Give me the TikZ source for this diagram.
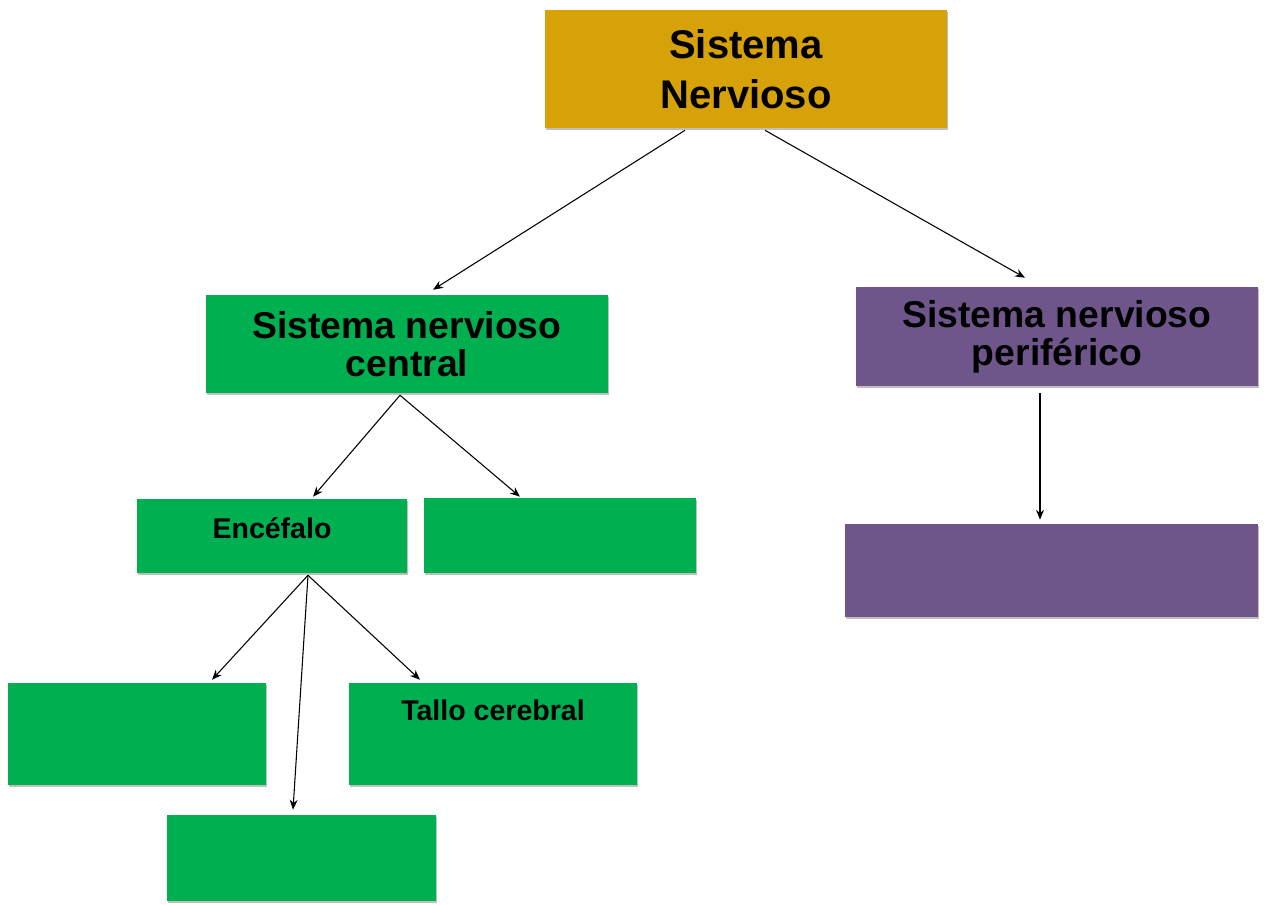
\documentclass[tikz,border=0pt]{standalone}
\usepackage{fontspec}
\setmainfont{Liberation Sans}
\usetikzlibrary{arrows.meta, calc, shadows}

\definecolor{nsgold}{RGB}{214,162,8}
\definecolor{nsgreen}{RGB}{0,176,80}
\definecolor{nspurple}{RGB}{111,86,138}

\begin{document}
\begin{tikzpicture}[
    x=0.75pt, y=-0.75pt,
    box/.style={rectangle, inner sep=0pt, align=center, drop shadow={shadow xshift=1pt, shadow yshift=-1.8pt, opacity=0.5}},
    goldbox/.style={box, fill=nsgold, font=\bfseries\fontsize{30}{37.5}\selectfont},
    greenbox/.style={box, fill=nsgreen},
    purplebox/.style={box, fill=nspurple},
    bigtext/.style={font=\bfseries\fontsize{28}{28.5}\selectfont},
    smalltext/.style={font=\bfseries\fontsize{21.4}{26}\selectfont},
    arrow/.style={-{Stealth[length=7.5pt, width=6pt]}, line width=0.8pt}
]
\useasboundingbox (0,0) rectangle (1264,904);

% Top
\node[goldbox, minimum width=301.5pt, minimum height=88.5pt] (sn) at (746,69) {Sistema\\Nervioso};

% Central and peripheral
\node[greenbox, bigtext, minimum width=301.5pt, minimum height=73.5pt] (snc) at (407,344) {Sistema nervioso\\central};
\node[purplebox, bigtext, minimum width=301.5pt, minimum height=74.25pt] (snp) at (1057,336.5) {Sistema nervioso\\periférico};

% Second level
\node[greenbox, smalltext, minimum width=202.5pt, text height=29.25pt, text depth=26.25pt] (enc) at (272,536) {Encéfalo};
\node[greenbox, minimum width=204pt, minimum height=56.25pt] (med) at (560,535.5) {};
\node[purplebox, minimum width=309.75pt, minimum height=69.75pt] (per) at (1051.5,570.5) {};

% Third level
\node[greenbox, minimum width=193.5pt, minimum height=76.5pt] (cer) at (137,734) {};
\node[greenbox, smalltext, minimum width=216pt, text height=27.75pt, text depth=48.75pt] (tallo) at (493,734) {Tallo cerebral};
\node[greenbox, minimum width=201.75pt, minimum height=64.5pt] (cbl) at (301.5,858) {};

% Connections
\draw[arrow] ($(sn.south)+(-61,2)$) -- ($(snc.north)+(26,-5)$);
\draw[arrow] ($(sn.south)+(19,2)$) -- ($(snp.north)+(-32,-9)$);
\draw[arrow] ($(snc.south)+(-7,2)$) -- ($(enc.north)+(41,-2)$);
\draw[arrow] ($(snc.south)+(-7,2)$) -- ($(med.north)+(-40,-1)$);
\draw[arrow] ($(snp.south)+(-17,7)$) -- ($(per.north)+(-11.5,-4)$);
\draw[arrow] ($(enc.south)+(36,2)$) -- ($(cer.north)+(75,-3)$);
\draw[arrow] ($(enc.south)+(36,2)$) -- ($(cbl.north)+(-8.5,-5)$);
\draw[arrow] ($(enc.south)+(36,2)$) -- ($(tallo.north)+(-73,-3)$);

\end{tikzpicture}
\end{document}
